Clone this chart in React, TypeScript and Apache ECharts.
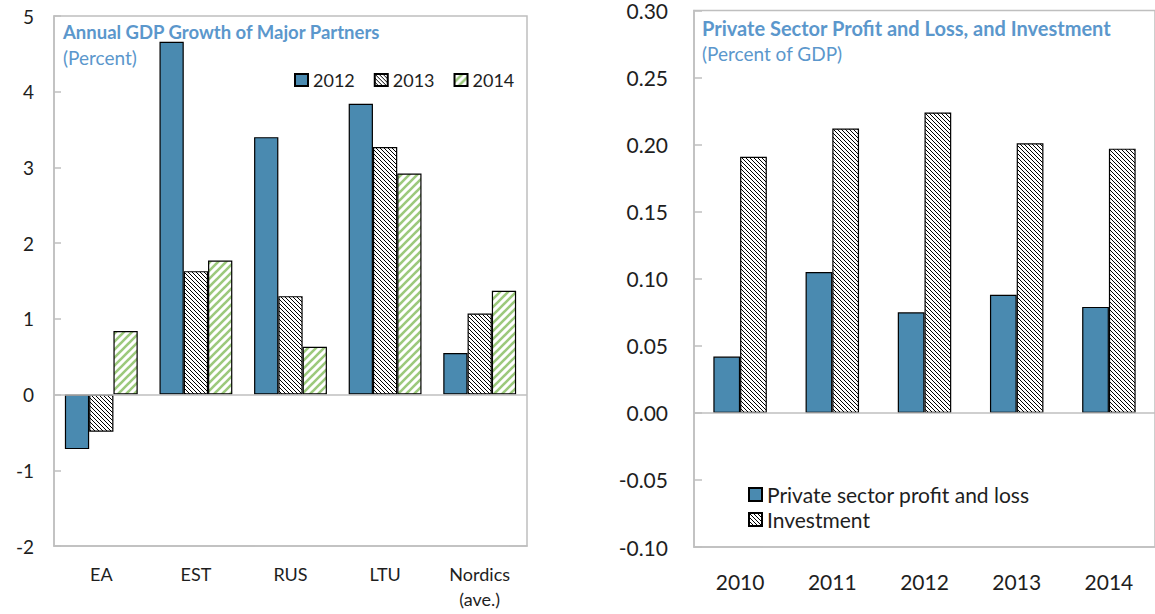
import React, { useEffect, useRef } from "react";
import * as echarts from "echarts";

const partners = ["EA", "EST", "RUS", "LTU", "Nordics\n(ave.)"];
const growth2012 = [-0.72, 4.66, 3.4, 3.84, 0.55];
const growth2013 = [-0.49, 1.63, 1.3, 3.27, 1.07];
const growth2014 = [0.84, 1.77, 0.63, 2.92, 1.37];

const years = ["2010", "2011", "2012", "2013", "2014"];
const profitLoss = [0.042, 0.105, 0.075, 0.088, 0.079];
const investment = [0.191, 0.212, 0.224, 0.201, 0.197];

const BLUE = "#4A8AB0";
const TITLE_BLUE = "#5B97CC";
const AXIS_GRAY = "#BFBFBF";
const TEXT = "#1E1E1E";
const FONT = "Lato, 'Open Sans', sans-serif";

function stripes(size: number, color: string, width: number, dir: "down" | "up") {
  const c = document.createElement("canvas");
  c.width = size;
  c.height = size;
  const ctx = c.getContext("2d")!;
  ctx.fillStyle = "#ffffff";
  ctx.fillRect(0, 0, size, size);
  ctx.strokeStyle = color;
  ctx.lineWidth = width;
  ctx.lineCap = "square";
  for (const o of [-size, 0, size]) {
    ctx.beginPath();
    if (dir === "down") {
      ctx.moveTo(o, 0);
      ctx.lineTo(o + size, size);
    } else {
      ctx.moveTo(o, size);
      ctx.lineTo(o + size, 0);
    }
    ctx.stroke();
  }
  return { image: c, repeat: "repeat" } as any;
}

export default function App() {
  const ref = useRef<HTMLDivElement>(null);
  useEffect(() => {
    document.body.style.margin = "0";
    const chart = echarts.init(ref.current!, null, { renderer: "svg" });
    const blackHatch = stripes(4, "#000000", 1, "down");
    const greenHatch = stripes(8, "#9CC97C", 2.6, "up");
    const border = { borderColor: "#000", borderWidth: 1.2 };

    const option: any = {
      animation: false,
      textStyle: { fontFamily: FONT },
      title: [
        {
          text: "Annual GDP Growth of Major Partners",
          subtext: "(Percent)",
          left: 63,
          top: 21,
          padding: 0,
          itemGap: 3,
          textStyle: { color: TITLE_BLUE, fontSize: 18.5, fontWeight: "bold", fontFamily: FONT, lineHeight: 22 },
          subtextStyle: { color: TITLE_BLUE, fontSize: 19, fontFamily: FONT, lineHeight: 22 },
        },
        {
          text: "Private Sector Profit and Loss, and Investment",
          subtext: "(Percent of GDP)",
          left: 702,
          top: 17,
          padding: 0,
          itemGap: 3,
          textStyle: { color: TITLE_BLUE, fontSize: 20, fontWeight: "bold", fontFamily: FONT, lineHeight: 22 },
          subtextStyle: { color: TITLE_BLUE, fontSize: 19, fontFamily: FONT, lineHeight: 22 },
        },
      ],
      legend: [
        {
          data: ["2012", "2013", "2014"],
          left: 294,
          top: 71,
          padding: 0,
          orient: "horizontal",
          icon: "rect",
          itemWidth: 13,
          itemHeight: 12,
          itemGap: 19,
          textStyle: { color: TEXT, fontSize: 18, fontFamily: FONT },
        },
        {
          data: ["Private sector profit and loss", "Investment"],
          left: 748,
          top: 484,
          padding: 0,
          orient: "vertical",
          icon: "rect",
          itemWidth: 13,
          itemHeight: 13,
          itemGap: 4,
          textStyle: { color: TEXT, fontSize: 21, fontFamily: FONT },
        },
      ],
      grid: [
        { left: 54, top: 16, width: 473, height: 530, show: true, borderColor: AXIS_GRAY, borderWidth: 1.5, backgroundColor: "transparent" },
        { left: 694, top: 7, width: 464, height: 540, show: true, borderColor: AXIS_GRAY, borderWidth: 1.5, backgroundColor: "transparent" },
      ],
      xAxis: [
        {
          type: "category",
          gridIndex: 0,
          data: partners,
          axisLine: { onZero: false, lineStyle: { color: AXIS_GRAY, width: 1.5 } },
          axisTick: { show: false },
          axisLabel: { color: TEXT, fontSize: 18, margin: 15, lineHeight: 25, fontFamily: FONT },
        },
        {
          type: "category",
          gridIndex: 1,
          data: years,
          axisLine: { onZero: false, lineStyle: { color: AXIS_GRAY, width: 1.5 } },
          axisTick: { show: false },
          axisLabel: { color: TEXT, fontSize: 21, margin: 24, fontFamily: FONT },
        },
      ],
      yAxis: [
        {
          type: "value",
          gridIndex: 0,
          min: -2,
          max: 5,
          interval: 1,
          splitLine: { show: false },
          axisLine: { show: true, lineStyle: { color: AXIS_GRAY, width: 1.5 } },
          axisTick: { show: true, inside: true, length: 7, lineStyle: { color: AXIS_GRAY, width: 1.5 } },
          axisLabel: { color: TEXT, fontSize: 19, margin: 20, fontFamily: FONT },
        },
        {
          type: "value",
          gridIndex: 1,
          min: -0.1,
          max: 0.3,
          interval: 0.05,
          splitLine: { show: false },
          axisLine: { show: true, lineStyle: { color: AXIS_GRAY, width: 1.5 } },
          axisTick: { show: true, inside: true, length: 8, lineStyle: { color: AXIS_GRAY, width: 1.5 } },
          axisLabel: {
            color: TEXT,
            fontSize: 21,
            margin: 26,
            fontFamily: FONT,
            formatter: (v: number) => v.toFixed(2),
          },
        },
      ],
      series: [
        {
          name: "2012",
          type: "bar",
          xAxisIndex: 0,
          yAxisIndex: 0,
          data: growth2012,
          barGap: "0%",
          barCategoryGap: "23%",
          itemStyle: { color: BLUE, ...border },
          markLine: {
            silent: true,
            symbol: "none",
            label: { show: false },
            lineStyle: { color: AXIS_GRAY, width: 1.5, type: "solid" },
            data: [{ yAxis: 0 }],
          },
        },
        {
          name: "2013",
          type: "bar",
          xAxisIndex: 0,
          yAxisIndex: 0,
          data: growth2013,
          barGap: "0%",
          barCategoryGap: "23%",
          itemStyle: { color: blackHatch, ...border },
        },
        {
          name: "2014",
          type: "bar",
          xAxisIndex: 0,
          yAxisIndex: 0,
          data: growth2014,
          barGap: "0%",
          barCategoryGap: "23%",
          itemStyle: { color: greenHatch, ...border },
        },
        {
          name: "Private sector profit and loss",
          type: "bar",
          xAxisIndex: 1,
          yAxisIndex: 1,
          data: profitLoss,
          barGap: "0%",
          barCategoryGap: "42%",
          itemStyle: { color: BLUE, ...border },
          markLine: {
            silent: true,
            symbol: "none",
            label: { show: false },
            lineStyle: { color: AXIS_GRAY, width: 1.5, type: "solid" },
            data: [{ yAxis: 0 }],
          },
        },
        {
          name: "Investment",
          type: "bar",
          xAxisIndex: 1,
          yAxisIndex: 1,
          data: investment,
          barGap: "0%",
          barCategoryGap: "42%",
          itemStyle: { color: blackHatch, ...border },
        },
      ],
    };
    chart.setOption(option);
    return () => chart.dispose();
  }, []);
  return <div ref={ref} style={{ width: 1155, height: 614 }} />;
}
